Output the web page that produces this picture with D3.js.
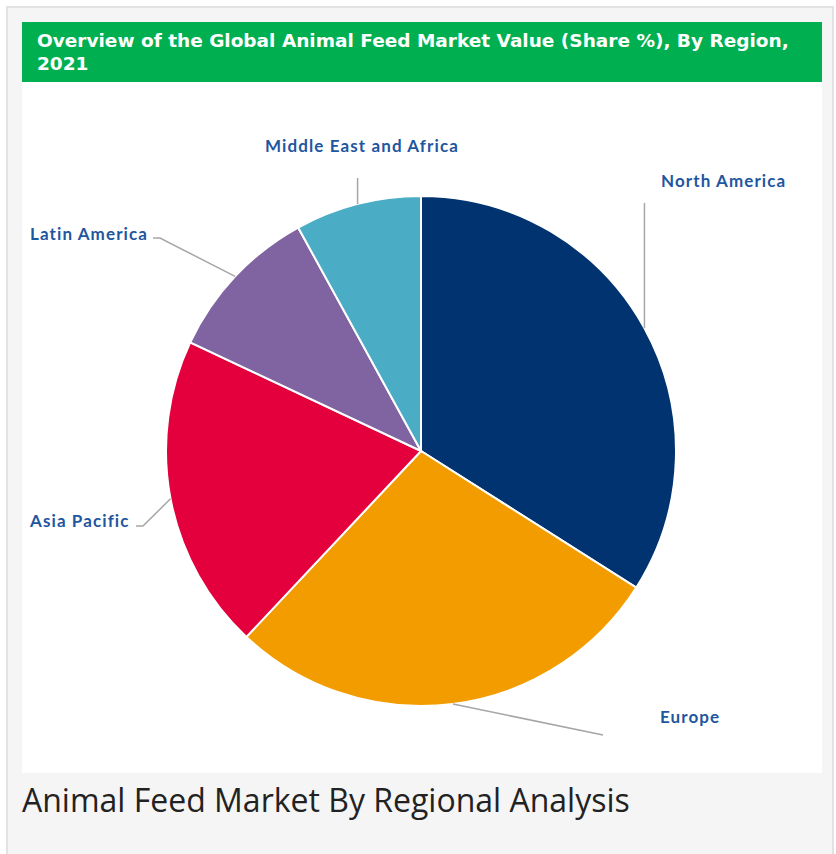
<!DOCTYPE html>
<html>
<head>
<meta charset="utf-8">
<script src="https://cdn.jsdelivr.net/npm/d3@7"></script>
<style>
  body { margin: 0; background: #fff; }
  svg { display: block; }
</style>
</head>
<body>
<div id="chart"></div>
<script>
// 数据
const regions = ["North America", "Europe", "Asia Pacific", "Latin America", "Middle East and Africa"];
const shares = [34, 28, 20, 10, 8];
const colors = ["#003370", "#F29C00", "#E4003C", "#8064A2", "#4BACC6"];

const titleLines = ["Overview of the Global Animal Feed Market Value (Share %), By Region,", "2021"];
const caption = "Animal Feed Market By Regional Analysis";

// 标签布局（引线拐点与文字位置）
const labelLayout = {
    "North America": { knee: [null, 203], end: null, text: [661, 187], anchor: "start" },
    "Europe": { knee: [603, 735], end: null, text: [660, 723], anchor: "start" },
    "Asia Pacific": { knee: [143, 526], end: [136, 526], text: [30, 527], anchor: "start" },
    "Latin America": { knee: [160, 238], end: [153, 238], text: [30, 240], anchor: "start" },
    "Middle East and Africa": { knee: [null, 178], end: null, text: [362, 152], anchor: "middle" }
};

function drawChart() {
    const width = 836, height = 854;
    const svg = d3.select("#chart").append("svg").attr("width", width).attr("height", height);

    // 外框
    svg.append("rect").attr("x", 7).attr("y", 7).attr("width", 826).attr("height", 870)
        .attr("fill", "#f5f5f5").attr("stroke", "#e2e2e2").attr("stroke-width", 2);
    svg.append("rect").attr("x", 22).attr("y", 22).attr("width", 800).attr("height", 751).attr("fill", "#fff");

    // 标题栏
    svg.append("rect").attr("x", 22).attr("y", 22).attr("width", 800).attr("height", 60).attr("fill", "#00B050");
    svg.selectAll("text.title").data(titleLines).join("text")
        .attr("class", "title")
        .attr("x", 37).attr("y", (d, i) => 47 + i * 23)
        .attr("fill", "#fff")
        .style("font-family", "'DejaVu Sans', sans-serif")
        .style("font-weight", "bold").style("font-size", "18.5px")
        .text(d => d);

    // 饼图
    const cx = 421, cy = 451, r = 255;
    const g = svg.append("g").attr("transform", `translate(${cx},${cy})`);
    const pie = d3.pie().sort(null).value(d => d.value);
    const data = pie(regions.map((name, i) => ({ name, value: shares[i], color: colors[i] })));
    const arc = d3.arc().innerRadius(0).outerRadius(r);
    const edge = d3.arc().innerRadius(r).outerRadius(r);

    g.selectAll("path.slice").data(data).join("path")
        .attr("class", "slice")
        .attr("d", arc)
        .attr("fill", d => d.data.color)
        .attr("stroke", "#fff").attr("stroke-width", 2);

    // 引线 + 标签
    data.forEach(d => {
        const lay = labelLayout[d.data.name];
        const [ex, ey] = edge.centroid(d);
        const start = [cx + ex, cy + ey];
        const knee = [lay.knee[0] === null ? start[0] : lay.knee[0], lay.knee[1]];
        const pts = [start, knee];
        if (lay.end) pts.push(lay.end);
        svg.append("path")
            .attr("d", d3.line()(pts))
            .attr("fill", "none").attr("stroke", "#a6a6a6").attr("stroke-width", 1.5);

        svg.append("text")
            .attr("x", lay.text[0]).attr("y", lay.text[1])
            .attr("text-anchor", lay.anchor)
            .attr("fill", "#1f56a0")
            .style("font-family", "Lato, sans-serif")
            .style("font-weight", "bold").style("font-size", "17px")
            .style("letter-spacing", "1.1px")
            .text(d.data.name);
    });

    // 图注
    svg.append("text").attr("x", 22).attr("y", 812)
        .attr("fill", "#222")
        .style("font-family", "'Open Sans', sans-serif")
        .style("font-size", "32px")
        .text(caption);
}

drawChart();
</script>
</body>
</html>
